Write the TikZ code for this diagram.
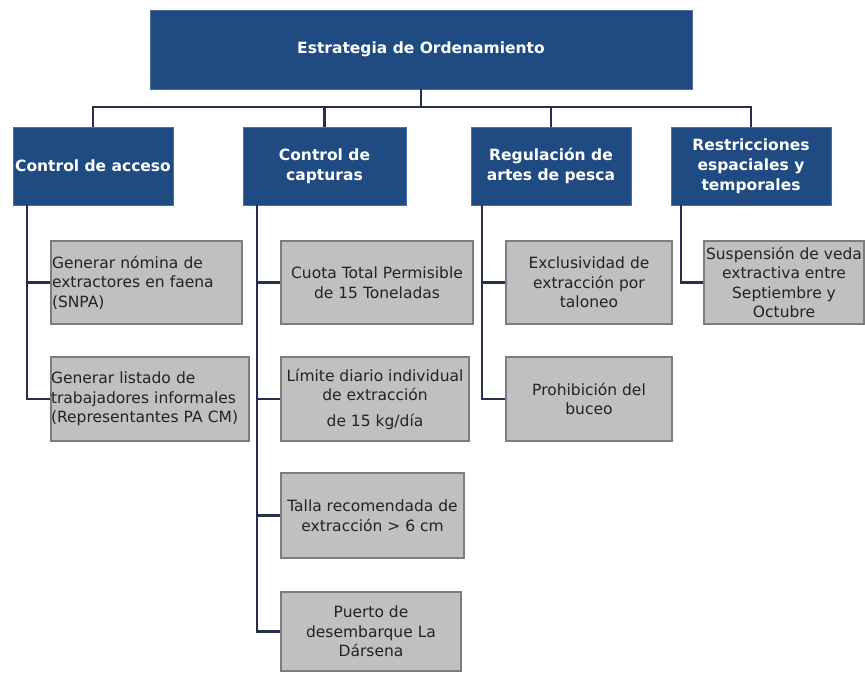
\documentclass[tikz,border=0pt]{standalone}
\usepackage{fontspec}
\setmainfont{DejaVu Sans}
\definecolor{navy}{RGB}{31,75,130}
\definecolor{conn}{RGB}{38,48,78}
\definecolor{gfill}{RGB}{192,192,192}
\definecolor{gline}{RGB}{125,125,125}
\definecolor{gtext}{RGB}{35,35,35}
\tikzset{
  bluebox/.style={fill=navy, draw=navy!80!white, line width=0.6pt, text=white, font=\fontsize{15.5}{20}\selectfont\bfseries, align=center, inner sep=0pt},
  graybox/.style={fill=gfill, draw=gline, line width=1.4pt, text=gtext, font=\fontsize{15.5}{19.5}\selectfont, align=center, inner sep=0pt},
  conline/.style={draw=conn, line width=2.2pt}
}
\begin{document}
\begin{tikzpicture}[x=1pt,y=-1pt]
\useasboundingbox (0,0) rectangle (865,673);
% top
\node[bluebox, minimum width=542pt, minimum height=79pt] (top) at (421,49.5) {Estrategia de Ordenamiento};
% level 1
\node[bluebox, minimum width=160pt, minimum height=78pt] (a) at (93,166) {Control de acceso};
\node[bluebox, minimum width=163pt, minimum height=78pt] (b) at (324.5,166) {Control de\\capturas};
\node[bluebox, minimum width=160pt, minimum height=78pt] (c) at (551,166) {Regulación de\\artes de pesca};
\node[bluebox, minimum width=160pt, minimum height=78pt] (d) at (751,166) {Restricciones\\espaciales y\\temporales};
% level 2
\node[graybox, minimum width=191pt, minimum height=83pt, align=left, text width=189pt] (a1) at (146.5,282.5) {Generar nómina de\\extractores en faena\\(SNPA)};
\node[graybox, minimum width=198pt, minimum height=84pt, align=left, text width=198pt] (a2) at (150,399) {Generar listado de\\trabajadores informales\\(Representantes PA CM)};
\node[graybox, minimum width=192pt, minimum height=83pt] (b1) at (377,282.5) {Cuota Total Permisible\\de 15 Toneladas};
\node[graybox, minimum width=188pt, minimum height=84pt] (b2) at (375,399) {Límite diario individual\\de extracción\\[6pt]de 15 kg/día};
\node[graybox, minimum width=183pt, minimum height=85pt] (b3) at (372.5,515.5) {Talla recomendada de\\extracción > 6 cm};
\node[graybox, minimum width=180pt, minimum height=79pt] (b4) at (371,631.5) {Puerto de\\desembarque La\\Dársena};
\node[graybox, minimum width=166pt, minimum height=83pt] (c1) at (589,282.5) {Exclusividad de\\extracción por\\taloneo};
\node[graybox, minimum width=166pt, minimum height=84pt] (c2) at (589,399) {Prohibición del\\buceo};
\node[graybox, minimum width=160pt, minimum height=83pt] (d1) at (784,282.5) {Suspensión de veda\\extractiva entre\\Septiembre y\\Octubre};
% connectors top -> level 1
\coordinate (bus) at (421,107);
\draw[conline] (top.south) -- (bus);
\draw[conline] (a.north) |- (bus);
\draw[conline] (d.north) |- (bus);
\draw[conline] (b.north) -- (b.north |- bus);
\draw[conline] (c.north) -- (c.north |- bus);
% level 1 -> level 2
\draw[conline] ([xshift=14pt]a.south west) |- (a1.west);
\draw[conline] ([xshift=14pt]a.south west) |- (a2.west);
\draw[conline] ([xshift=14pt]b.south west) |- (b1.west);
\draw[conline] ([xshift=14pt]b.south west) |- (b2.west);
\draw[conline] ([xshift=14pt]b.south west) |- (b3.west);
\draw[conline] ([xshift=14pt]b.south west) |- (b4.west);
\draw[conline] ([xshift=11pt]c.south west) |- (c1.west);
\draw[conline] ([xshift=11pt]c.south west) |- (c2.west);
\draw[conline] ([xshift=10pt]d.south west) |- (d1.west);
\end{tikzpicture}
\end{document}
